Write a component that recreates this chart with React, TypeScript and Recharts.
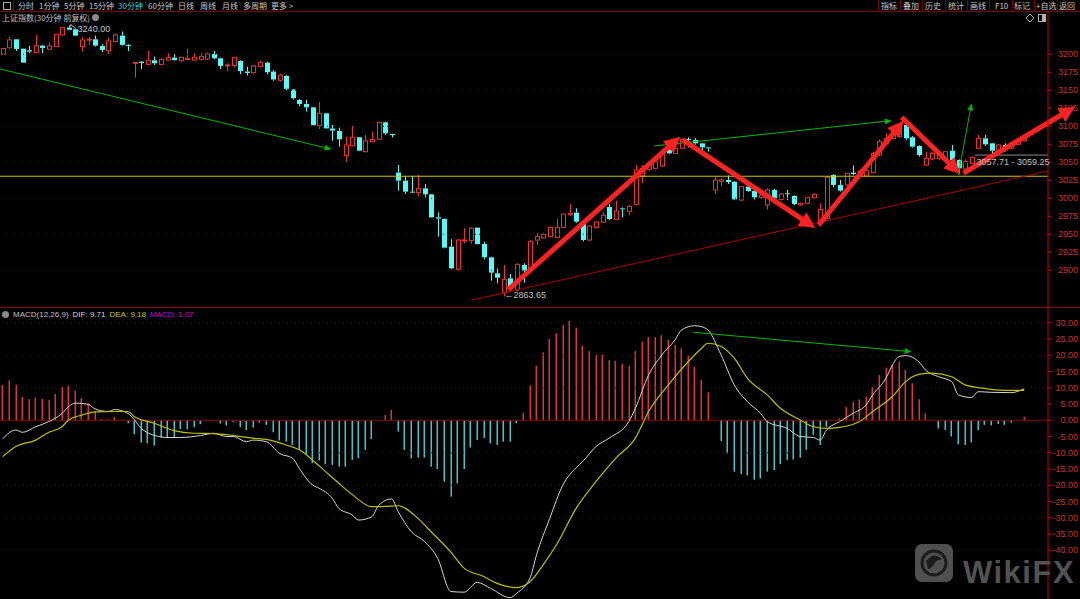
import React from "react";
import { Bar, ComposedChart, Line, ReferenceDot, ReferenceLine, XAxis, YAxis } from "recharts";

// 30分钟K线（上证指数），从左到右共156根
const OPEN = [
  3200, 3209, 3220.8, 3207.8, 3205.5, 3202.3, 3212, 3207, 3210.6, 3226.8,
  3237, 3234.7, 3210.6, 3220, 3220.8, 3211.5, 3205, 3217.6, 3225.9, 3213,
  3187.7, 3189.8, 3186, 3191.6, 3186, 3192, 3195.3, 3191.2, 3193, 3192,
  3193, 3193.5, 3200.4, 3194.4, 3185, 3184.2, 3190.7, 3176, 3174.5, 3182.8,
  3188.4, 3176, 3164, 3170, 3151, 3136.5, 3131, 3126.3, 3100.9, 3118,
  3097, 3093.4, 3059.2, 3073, 3084.7, 3064.7, 3078.6, 3081.9, 3105.5, 3089.3,
  3035.6, 3024.5, 3009.2, 3007.8, 3013.8, 3005.5, 2973.5, 2971.2, 2932.8, 2901.3,
  2941.5, 2941.2, 2959.2, 2936.5, 2918, 2895.8, 2868.9, 2888.8, 2873.5, 2907.3,
  2901.3, 2942, 2944.8, 2946.7, 2945.7, 2959.6, 2977, 2980, 2967.5, 2942,
  2959.6, 2967, 2987.9, 2970.7, 2986, 2981.9, 2991.6, 3031, 3040.2, 3041.6,
  3044.8, 3067, 3062.4, 3069.4, 3082.3, 3081, 3076.3, 3070.7, 3011.5, 3023.5,
  3025.4, 3023, 2997.6, 3016.1, 3010, 3001.3, 2990.7, 3011.5, 2998.5, 3006.9,
  3003.2, 2990.7, 2993, 3000.8, 2967.5, 2972, 3032.3, 3018.5, 3018.5, 3035.6,
  3032, 3031, 3035.6, 3060.1, 3076.3, 3083.2, 3085.6, 3101.8, 3084.7, 3072.6,
  3046.2, 3054.6, 3055, 3053.2, 3066.1, 3053.2, 3040.7, 3048.5, 3069.4, 3083.2,
  3076.3, 3066.1, 3074, 3069.4, 3075, 3080,
];
const CLOSE = [
  3208, 3220, 3207.4, 3188.4, 3203.7, 3212, 3208.8, 3211.5, 3227.8, 3237,
  3234, 3225.9, 3219.9, 3221, 3212, 3206, 3218.5, 3226.8, 3213, 3212,
  3188.8, 3188, 3191.6, 3187.5, 3193, 3195.3, 3192, 3195.8, 3194, 3195.8,
  3196.7, 3200.4, 3194.4, 3183.8, 3185.2, 3195.3, 3176.8, 3174, 3183.8, 3188.4,
  3175, 3165, 3171, 3152, 3139, 3131, 3126.3, 3101.8, 3118, 3097.1,
  3094, 3081.9, 3074, 3084.7, 3066.1, 3079.6, 3081.6, 3105.5, 3090.2, 3088.4,
  3024.5, 3009.2, 3007.8, 3013.8, 3005.5, 2973.5, 2971.7, 2931.4, 2902.7, 2942,
  2942.1, 2958.3, 2936.5, 2918, 2896.7, 2889.7, 2887.4, 2874.9, 2908.3, 2899.5,
  2939.7, 2946.7, 2949.5, 2959.6, 2959.6, 2978, 2979, 2967.5, 2942, 2961.5,
  2967, 2976.3, 2971.2, 2982.3, 2985, 2988.8, 3039.3, 3041.6, 3048.5, 3050.9,
  3062.4, 3062.4, 3069.4, 3081.9, 3081, 3076.3, 3070.7, 3069.8, 3025.4, 3025.4,
  3022.6, 2998.5, 3016.1, 3010.1, 3001.3, 3004.5, 3011.5, 2999.9, 3006, 3006,
  2992, 2993, 3000.8, 3005.5, 2984.6, 3029, 3018.5, 3010.6, 3034.6, 3033.7,
  3038, 3038.4, 3062.4, 3078.6, 3083.2, 3092.5, 3097.1, 3083.2, 3071.7, 3060.1,
  3055.5, 3062.4, 3060, 3064.7, 3053.2, 3041.6, 3050.9, 3056.9, 3083.2, 3074.9,
  3066.1, 3074, 3068, 3076.3, 3080, 3084.6,
];
const HIGH = [
  3209, 3224.5, 3221, 3208, 3211.5, 3226.8, 3213, 3216.6, 3228.7, 3238,
  3240, 3236, 3223.6, 3224, 3226, 3214, 3223, 3229, 3231.5, 3213.9,
  3188.8, 3190.7, 3204.6, 3196.7, 3194.4, 3201.4, 3200, 3196.7, 3207.8, 3201,
  3201.4, 3202.7, 3204.6, 3195.3, 3187.5, 3196.3, 3191.6, 3182.8, 3185.2, 3191.2,
  3189.8, 3178, 3173, 3171, 3152, 3138, 3136.5, 3127, 3134, 3118.5,
  3101.8, 3098, 3085.6, 3100.4, 3085, 3087.9, 3092.5, 3106, 3106.4, 3089.5,
  3046.2, 3031, 3031, 3032.3, 3019.8, 3006, 2980.5, 2972, 2943, 2943,
  2958.3, 2959.6, 2959.5, 2939.7, 2918.9, 2902.7, 2907.3, 2894.8, 2909.7, 2909.7,
  2942, 2951.3, 2951.3, 2960.6, 2972, 2978.5, 2992, 2986, 2968, 2962,
  2968, 2981.4, 2992, 2996.7, 2987.4, 2990.7, 3046.2, 3046.2, 3050, 3053,
  3063, 3070.7, 3070.5, 3083.2, 3084.6, 3083.7, 3077, 3071, 3030, 3027.7,
  3031.9, 3024, 3017, 3018.4, 3011.3, 3006, 3013.8, 3013.3, 3007, 3011.5,
  3004, 2994, 3001.5, 3006.8, 2993, 3031, 3033.5, 3025.4, 3035, 3045.8,
  3040, 3039.3, 3064.7, 3081.9, 3090.2, 3094.8, 3099, 3104, 3086.5, 3073.5,
  3064.7, 3064.7, 3061.5, 3066, 3074, 3054, 3054, 3058, 3088, 3088,
  3077, 3075, 3076.3, 3077.5, 3081, 3086,
];
const LOW = [
  3199, 3208, 3204.6, 3188, 3201.4, 3201.4, 3201.4, 3206.5, 3210, 3226,
  3233.5, 3225.5, 3203.7, 3213, 3210.6, 3202.8, 3200.4, 3216.6, 3212, 3204.6,
  3167.6, 3179.6, 3185, 3185.2, 3184.2, 3191.2, 3191.2, 3188.9, 3192, 3191.2,
  3191.2, 3192.1, 3193, 3179.6, 3176.8, 3181.5, 3172.2, 3170.4, 3173.1, 3181.9,
  3172.2, 3163, 3162, 3150, 3137, 3128.2, 3120.3, 3101, 3096.2, 3096.5,
  3080, 3071.7, 3050.9, 3071.7, 3065.5, 3063.8, 3077.7, 3081, 3087.9, 3084.7,
  3010.6, 3006, 3006.9, 3003.2, 3001.3, 2973, 2946.7, 2930.5, 2901.3, 2899.5,
  2937.4, 2936.5, 2936, 2915.2, 2885.6, 2881.9, 2863.65, 2871.7, 2870.3, 2882.8,
  2900.4, 2935.1, 2943.9, 2945.7, 2944.4, 2959, 2975.4, 2966, 2940, 2941,
  2958, 2965.8, 2970, 2970, 2973.5, 2976.3, 2990, 3020.8, 3038, 3040,
  3043.5, 3061, 3061.5, 3068.5, 3070.7, 3074.5, 3067, 3064.7, 3006, 3017,
  3019.8, 2997.5, 2996, 3009, 2998.5, 2999.5, 2984.6, 2998.5, 2997, 2997.6,
  2990.5, 2989.3, 2992, 3000, 2960.6, 2971, 3015, 3009.2, 3017.5, 3032.3,
  3030.5, 3030, 3034.5, 3058.7, 3074, 3081.9, 3084.5, 3081, 3070.3, 3057.8,
  3044.8, 3053, 3053.5, 3052, 3050.9, 3033.7, 3039.5, 3047.5, 3068, 3072.6,
  3060, 3065, 3065, 3068.5, 3074, 3079,
];

// MACD(12,26,9) 柱
const HIST = [
  10.9, 12.3, 10.9, 7.2, 6.5, 7.0, 6.6, 6.3, 8.1, 10.2,
  10.6, 9.1, 6.8, 5.2, 2.7, 0.4, 0.3, 1.0, 0.1, -0.9,
  -4.3, -6.9, -7.1, -7.8, -5.3, -5.5, -5.1, -2.7, -2.8, -2.1,
  -1.2, -0.2, 0.05, -1.0, -1.6, -0.5, -2.1, -3.0, -2.3, -0.7,
  -1.4, -3.7, -6.2, -6.6, -7.6, -9.1, -10.5, -13.2, -12.4, -13.5,
  -13.7, -14.3, -14.3, -12.2, -11.7, -9.1, -5.8, -0.2, 1.6, 3.2,
  -3.5, -9.1, -11.7, -11.5, -11.5, -14.3, -15, -18.9, -23.5, -19.4,
  -15, -8.4, -6.1, -5.5, -7.1, -7.6, -6.6, -6.6, -0.9, 2.3,
  10.7, 16.8, 20.9, 25, 26.8, 29.3, 30.6, 28.5, 23, 21.3,
  20.1, 20.1, 18.5, 18.3, 17.4, 16.8, 21.3, 24.2, 25.6, 25.6,
  26.2, 24.7, 23.2, 22.1, 19.9, 16.5, 12.4, 8.6, -0.2, -6.4,
  -10.2, -15.8, -16.6, -17, -18.3, -17.9, -15.8, -15.3, -13.5, -12.2,
  -12.1, -11.5, -9.1, -4.5, -7.6, -2, -0.1, 0.6, 4.1, 5.7,
  6.4, 7.3, 10.2, 13.9, 16.2, 17, 18, 15.5, 11.4, 6.5,
  2.1, 0, -2.5, -3, -5, -7.4, -7.6, -6.8, -3, -1.4,
  -1.6, -1.1, -1.4, -0.7, -0.1, 1.07,
];
// DIF / DEA 读数 [K线序号, 值]
const DIF_PTS: [number, number][] = [
  [0, -5.7], [2, -3], [3, -3.7], [5, -2], [7, -0.4], [9, 2.1], [10, 4.2], [11, 5.3], [13, 4.9], [14, 3.5],
  [16, 2.7], [17, 3.3], [19, 2.1], [20, 0.1], [21, -2.5], [24, -5.1], [25, -5.3], [27, -5.3], [30, -4.7],
  [32, -4], [34, -5], [35, -5], [37, -6.6], [38, -6.1], [40, -6.6], [42, -10.2], [44, -11.7], [45, -14.8],
  [47, -19.9], [48, -20.9], [50, -24], [51, -27.1], [53, -29.1], [54, -30.7], [56, -29.7], [57, -26.3],
  [59, -24.2], [60, -28.1], [62, -34.3], [64, -37.3], [66, -42.5], [68, -52.7], [70, -52.9], [72, -49.9],
  [74, -51.7], [77, -54.6], [78, -53.2], [80, -48.6], [81, -41.4], [83, -30.2], [85, -19.9], [87, -14.6],
  [88, -12.7], [90, -8.1], [92, -5.5], [95, -0.4], [96, 3.7], [98, 13.9], [100, 20.1], [102, 24.7],
  [103, 27.8], [105, 29.1], [106, 28.8], [107, 27.8], [109, 20.1], [111, 10.9], [113, 5.7], [115, 2.1],
  [116, -0.4], [119, -2.5], [121, -5], [123, -5.3], [124, -6.1], [125, -3], [127, -0.4], [129, 2.1],
  [131, 4.7], [132, 7.8], [134, 12.9], [135, 17], [136, 19.6], [137, 19.9], [139, 18], [140, 15.5],
  [142, 13.4], [144, 11.9], [145, 7.8], [147, 7], [148, 8.8], [150, 8.6], [153, 8.5], [155, 9.71],
];
const DEA_PTS: [number, number][] = [
  [0, -11.2], [2, -8.1], [5, -6.1], [7, -3.7], [9, -2], [10, 0.1], [12, 1.6], [14, 2.6], [17, 2.7],
  [19, 2.7], [20, 1.1], [23, -0.9], [26, -3.2], [29, -4], [32, -4.1], [35, -4.7], [38, -5.5], [40, -5.9],
  [43, -7.6], [45, -9.1], [47, -12.2], [49, -15.8], [51, -19.4], [53, -22.8], [56, -26.6], [58, -26.5],
  [60, -26.3], [63, -30.2], [65, -34.3], [68, -40.6], [70, -45.5], [73, -48.1], [75, -50.2], [78, -51.5],
  [80, -49.7], [82, -44.5], [84, -38.4], [87, -27.1], [90, -18.9], [93, -11.7], [96, -5.5], [98, 2.7],
  [101, 10.9], [104, 18], [106, 22.1], [107, 23.7], [109, 22.7], [111, 19.1], [113, 12.9], [116, 7.8],
  [118, 3.7], [121, 0.1], [123, -2], [125, -2.5], [127, -2.2], [130, -0.4], [132, 2.7], [135, 7.3],
  [137, 11.9], [139, 14.1], [141, 14.5], [144, 13.4], [146, 10.9], [149, 9.8], [151, 9.3], [155, 9.18],
];

const PRICE_TICKS = [2900, 2925, 2950, 2975, 3000, 3025, 3050, 3075, 3100, 3125, 3150, 3175, 3200];
const PRICE_GRID = [2900, 2950, 3000, 3050, 3100, 3150, 3200];
const MACD_TICKS = [-40, -35, -30, -25, -20, -15, -10, -5, 0, 5, 10, 15, 20, 25, 30];
const MACD_GRID = [-40, -30, -20, -10, 10, 20, 30];

// 手绘标注（K线序号, 价格）
type Pt = [number, number];
const RED_ARROWS: [Pt, Pt][] = [
  [[76.7, 2873], [102.8, 3085.6]],
  [[103.2, 3081], [123.3, 2958.7]],
  [[123.8, 2962.9], [136.7, 3107.8]],
  [[136.4, 3112.5], [145.3, 3033.8]],
  [[145.8, 3035], [162.7, 3127]],
];
const GREEN_ARROWS: [Pt, Pt][] = [
  [[-0.41, 3179.6], [49.9, 3068]],
  [[98.8, 3072.6], [134.9, 3107.8]],
  [[145, 3032.4], [147, 3131.9]],
];
const MACD_ARROW: [Pt, Pt] = [[104.7, 27.1], [137.9, 21.1]];
const TREND_LINE: [Pt, Pt] = [[71.2, 2858.7], [158.6, 3037.9]];
const YELLOW_LEVEL = 3030.6;
const RANGE_LINE: [Pt, Pt] = [[147.5, 3060], [158.6, 3060]];

const LEFT_MENU = [
  { t: "分时", x: 18 }, { t: "1分钟", x: 39 }, { t: "5分钟", x: 64 }, { t: "15分钟", x: 89 },
  { t: "30分钟", x: 118, on: true }, { t: "60分钟", x: 148 }, { t: "日线", x: 178 },
  { t: "周线", x: 200 }, { t: "月线", x: 222 }, { t: "多周期", x: 243 }, { t: "更多 >", x: 271 },
];
const RIGHT_MENU = [
  { t: "指标", x: 881 }, { t: "叠加", x: 903 }, { t: "历史", x: 925 }, { t: "统计", x: 948 },
  { t: "画线", x: 970 }, { t: "F10", x: 995 }, { t: "标记", x: 1014 }, { t: "+自选", x: 1036 },
  { t: "返回", x: 1059 },
];
const MENU_SEPS = [878, 900, 922, 945, 967, 989, 1012, 1034, 1057];

const UP = "#ee3333";
const DOWN = "#54fcfc";
const AXIS = "#d00000";
const AXIS_TXT = "#c83232";
const GRID = "#6e0000";
const CJK = "'Noto Sans CJK SC', sans-serif";
const LAT = "'Liberation Sans', Arial, sans-serif";
const X_DOMAIN: [number, number] = [-0.41, 158.6];

const priceRows = OPEN.map((o, i) => ({
  i, o, c: CLOSE[i], h: HIGH[i], l: LOW[i], range: [LOW[i], HIGH[i]],
}));
const difMap = new Map(DIF_PTS);
const deaMap = new Map(DEA_PTS);
const macdRows = HIST.map((v, i) => ({
  i, hist: v, dif: difMap.get(i) ?? null, dea: deaMap.get(i) ?? null,
}));

const Candle = (p: any) => {
  const { x, y, width, height, payload } = p;
  if (x == null || y == null) return null;
  const top = Math.min(y, y + height);
  const span = Math.abs(height);
  const { o, c, h, l } = payload;
  const yOf = (v: number) => (h === l ? top : top + ((h - v) / (h - l)) * span);
  const cx = Math.round(x + width / 2) + 0.5;
  const up = c >= o;
  const col = up ? UP : DOWN;
  const bt = yOf(Math.max(o, c));
  const bh = Math.max(yOf(Math.min(o, c)) - bt, 1);
  return (
    <g>
      <line x1={cx} x2={cx} y1={top} y2={bt} stroke={col} />
      <line x1={cx} x2={cx} y1={bt + bh} y2={top + span} stroke={col} />
      {up ? (
        <rect x={cx - 2} y={bt} width={4} height={bh} fill="#000" stroke={col} />
      ) : (
        <rect x={cx - 2.5} y={bt} width={5} height={bh} fill={col} />
      )}
    </g>
  );
};

const HistBar = (p: any) => {
  const { x, y, width, height, payload } = p;
  if (x == null || y == null) return null;
  const top = Math.min(y, y + height);
  const cx = Math.round(x + width / 2);
  return (
    <rect
      x={cx - 0.5}
      y={top}
      width={1.5}
      height={Math.max(Math.abs(height), 0.6)}
      fill={payload.hist >= 0 ? "#e03333" : "#3ec6cc"}
    />
  );
};

const arrow = (color: string, w: number, head: number, half: number) => (p: any) => {
  const { x1, y1, x2, y2 } = p;
  const dx = x2 - x1;
  const dy = y2 - y1;
  const len = Math.hypot(dx, dy) || 1;
  const ux = dx / len;
  const uy = dy / len;
  const bx = x2 - ux * head;
  const by = y2 - uy * head;
  return (
    <g>
      <line x1={x1} y1={y1} x2={bx + ux} y2={by + uy} stroke={color} strokeWidth={w} />
      <polygon
        points={`${x2},${y2} ${bx - uy * half},${by + ux * half} ${bx + uy * half},${by - ux * half}`}
        fill={color}
      />
    </g>
  );
};
const redArrow = arrow("#ff2222", 5, 16, 8);
const greenArrow = arrow("#00b800", 1, 7, 3);

const axisTick = (fmt: (v: number) => string) => (p: any) => (
  <text x={p.x + 24} y={p.y} textAnchor="end" dominantBaseline="central" fill={AXIS_TXT} fontSize={9} fontFamily={LAT}>
    {fmt(p.payload.value)}
  </text>
);

const seg = (s: [Pt, Pt]) => [{ x: s[0][0], y: s[0][1] }, { x: s[1][0], y: s[1][1] }];

export default function App() {
  return (
    <div style={{ position: "absolute", left: 0, top: 0, width: 1080, height: 599, background: "#000", overflow: "hidden", fontFamily: CJK }}>
      {/* 顶部工具栏 */}
      <div style={{ position: "absolute", left: 0, top: 0, width: 1080, height: 11, borderBottom: "1px solid #7a0000" }} />
      <div style={{ position: "absolute", left: 0, top: 0, width: 13, height: 11, borderRight: "1px solid #7a0000" }}>
        <div style={{ position: "absolute", left: 3, top: 2, width: 6, height: 6, border: "1px solid #aaa" }} />
      </div>
      {LEFT_MENU.map((m) => (
        <div key={m.t} style={{ position: "absolute", left: m.x, top: 0, fontSize: 8, lineHeight: "11px", color: m.on ? "#38d8d8" : "#c8c8c8", whiteSpace: "nowrap" }}>
          {m.t}
        </div>
      ))}
      {MENU_SEPS.map((x) => (
        <div key={x} style={{ position: "absolute", left: x, top: 0, width: 1, height: 11, background: "#7a0000" }} />
      ))}
      {RIGHT_MENU.map((m) => (
        <div key={m.t} style={{ position: "absolute", left: m.x, top: 0, fontSize: 8, lineHeight: "11px", color: "#c8c8c8", whiteSpace: "nowrap" }}>
          {m.t}
        </div>
      ))}

      {/* 主图 */}
      <div style={{ position: "absolute", left: 0, top: 11 }}>
        <ComposedChart width={1080} height={297} data={priceRows} margin={{ top: 0, right: 0, bottom: 0, left: 0 }}>
          <XAxis dataKey="i" type="number" domain={X_DOMAIN} allowDataOverflow hide />
          <YAxis
            orientation="right"
            width={32}
            domain={[2847.6, 3260.1]}
            allowDataOverflow
            ticks={PRICE_TICKS}
            interval={0}
            tickSize={4}
            axisLine={{ stroke: AXIS }}
            tickLine={{ stroke: AXIS }}
            tick={axisTick((v) => String(v))}
          />
          {PRICE_GRID.map((v) => (
            <ReferenceLine key={v} y={v} stroke={GRID} strokeDasharray="1 3" />
          ))}
          <ReferenceLine y={YELLOW_LEVEL} stroke="#c8c800" />
          <ReferenceLine segment={seg(TREND_LINE)} stroke="#b00000" ifOverflow="visible" />
          <ReferenceLine segment={seg(RANGE_LINE)} stroke="#8a8a8a" ifOverflow="visible" />
          <Bar dataKey="range" barSize={5} shape={Candle} isAnimationActive={false} />
          {GREEN_ARROWS.map((s, k) => (
            <ReferenceLine key={`g${k}`} segment={seg(s)} ifOverflow="visible" shape={greenArrow} />
          ))}
          {RED_ARROWS.map((s, k) => (
            <ReferenceLine key={`r${k}`} segment={seg(s)} ifOverflow="visible" shape={redArrow} />
          ))}
          <ReferenceDot
            x={10}
            y={3240}
            ifOverflow="visible"
            shape={(p: any) => (
              <g>
                <polyline points={`${p.cx + 7},${p.cy + 3} ${p.cx + 2},${p.cy - 1} ${p.cx + 1},${p.cy + 2}`} fill="none" stroke="#c8c8c8" />
                <text x={p.cx + 9} y={p.cy + 3.5} fill="#c8c8c8" fontSize={9} fontFamily={LAT} dominantBaseline="central">3240.00</text>
              </g>
            )}
          />
          <ReferenceDot
            x={76}
            y={2863.65}
            ifOverflow="visible"
            shape={(p: any) => (
              <text x={p.cx + 1} y={p.cy - 1} fill="#c0c0c0" fontSize={9} fontFamily={LAT} dominantBaseline="central">←2863.65</text>
            )}
          />
          <ReferenceDot
            x={147.6}
            y={3060}
            ifOverflow="visible"
            shape={(p: any) => (
              <text x={p.cx + 1} y={p.cy + 7} fill="#c0c0c0" fontSize={9} fontFamily={LAT} dominantBaseline="central">3057.71 - 3059.25</text>
            )}
          />
        </ComposedChart>
      </div>
      <div style={{ position: "absolute", left: 2, top: 12, fontSize: 8, lineHeight: "11px", color: "#c0c0c0", whiteSpace: "nowrap" }}>
        上证指数(30分钟 前复权)
      </div>
      <div style={{ position: "absolute", left: 92, top: 14, width: 7, height: 7, borderRadius: 4, background: "#8a8a8a" }} />
      <svg style={{ position: "absolute", left: 1024, top: 13 }} width={24} height={10}>
        <polygon points="6,1 10,5 6,9 2,5" fill="none" stroke="#b0b0b0" />
        <rect x={14.5} y={1.5} width={7} height={7} fill="none" stroke="#b0b0b0" />
        <rect x={18} y={2} width={3} height={6} fill="#b0b0b0" />
      </svg>

      {/* 分隔线 */}
      <div style={{ position: "absolute", left: 0, top: 307, width: 1080, height: 1, background: "#900000" }} />

      {/* MACD 副图 */}
      <div style={{ position: "absolute", left: 0, top: 308 }}>
        <ComposedChart width={1080} height={291} data={macdRows} margin={{ top: 0, right: 0, bottom: 0, left: 0 }}>
          <XAxis dataKey="i" type="number" domain={X_DOMAIN} allowDataOverflow hide />
          <YAxis
            orientation="right"
            width={32}
            domain={[-55, 34.55]}
            allowDataOverflow
            ticks={MACD_TICKS}
            interval={0}
            tickSize={4}
            axisLine={{ stroke: AXIS }}
            tickLine={{ stroke: AXIS }}
            tick={axisTick((v) => v.toFixed(2))}
          />
          {MACD_GRID.map((v) => (
            <ReferenceLine key={v} y={v} stroke={GRID} strokeDasharray="1 3" />
          ))}
          <ReferenceLine y={0} stroke="#8a0000" />
          <Bar dataKey="hist" barSize={2} shape={HistBar} isAnimationActive={false} />
          <Line dataKey="dif" type="monotone" stroke="#d8d8d8" strokeWidth={1} dot={false} connectNulls isAnimationActive={false} />
          <Line dataKey="dea" type="monotone" stroke="#c0c000" strokeWidth={1.2} dot={false} connectNulls isAnimationActive={false} />
          <ReferenceLine segment={seg(MACD_ARROW)} ifOverflow="visible" shape={greenArrow} />
        </ComposedChart>
      </div>
      <div style={{ position: "absolute", left: 2, top: 309, height: 10, display: "flex", alignItems: "center", gap: 4, fontSize: 8, fontFamily: LAT, whiteSpace: "nowrap" }}>
        <span style={{ width: 7, height: 7, borderRadius: 4, background: "#8a8a8a", display: "inline-block" }} />
        <span style={{ color: "#c0c0c0" }}>MACD(12,26,9)</span>
        <span style={{ color: "#d8d8d8" }}>DIF: 9.71</span>
        <span style={{ color: "#c8c800" }}>DEA: 9.18</span>
        <span style={{ color: "#d000d0" }}>MACD: 1.07</span>
      </div>

      {/* 水印 */}
      <svg style={{ position: "absolute", left: 910, top: 540 }} width={170} height={50}>
        <rect x={5} y={4} width={38} height={38} rx={7} fill="#505050" />
        <circle cx={24} cy={23} r={12} fill="none" stroke="#1c1c1c" strokeWidth={3} />
        <path d="M16,21 Q24,11 32,19 L26,21 Q22,29 18,29 Z" fill="#1c1c1c" />
        <text x={53} y={43} fontSize={31} fontWeight="bold" letterSpacing={1.5} fontFamily={LAT} fill="#525252">WikiFX</text>
      </svg>
    </div>
  );
}
